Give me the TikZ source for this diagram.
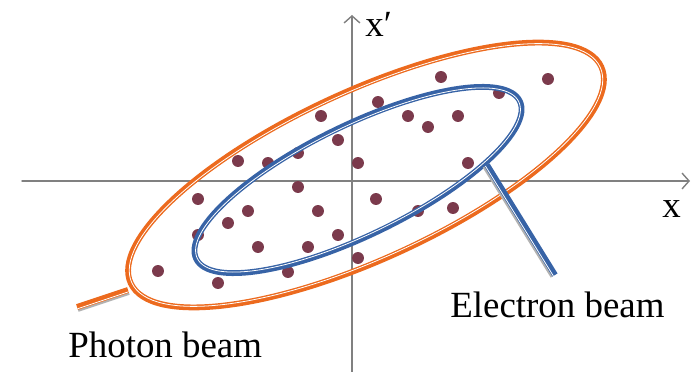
\documentclass[tikz,border=0pt]{standalone}
\usepackage{fontspec}
\setmainfont{Liberation Serif}
\usetikzlibrary{arrows.meta}
\begin{document}
\begin{tikzpicture}[x=0.02cm,y=0.02cm,font=\fontsize{21}{25}\selectfont,line cap=round,
  axis/.style={draw=axisgray,line width=0.8pt,-{Straight Barb[length=4pt,width=9pt]}},
  lbl/.style={inner sep=0pt,anchor=base west},
  ring/.style={line width=3.3pt},
  gap/.style={draw=white,line width=0.45pt},
  stem/.style={line width=3.4pt,line cap=butt},
  shade/.style={draw=gray!60,line width=1.3pt,line cap=butt},
  dot/.style={fill=dotred}]
\definecolor{axisgray}{HTML}{808080}
\definecolor{photonorange}{HTML}{EC6A1E}
\definecolor{electronblue}{HTML}{3763A6}
\definecolor{dotred}{HTML}{7B3A4C}
\useasboundingbox (0,0) rectangle (697,372);
% axes
\coordinate (xstart) at (22,191);
\coordinate (xend) at (690,191);
\coordinate (ystart) at (352,0);
\coordinate (yend) at (352,357);
\draw[axis] (xstart) -- (xend);
\draw[axis] (ystart) -- (yend);
\node[lbl] (xlab) at (662,154) {x};
\node[lbl] (xplab) at (365,335) {x′};
% particles
\fill[dot] (441,295) circle (3.4pt);
\fill[dot] (548,293) circle (3.4pt);
\fill[dot] (378,270) circle (3.4pt);
\fill[dot] (408,256) circle (3.4pt);
\fill[dot] (428,245) circle (3.4pt);
\fill[dot] (458,256) circle (3.4pt);
\fill[dot] (499,279) circle (3.4pt);
\fill[dot] (358,209) circle (3.4pt);
\fill[dot] (468,209) circle (3.4pt);
\fill[dot] (376,173) circle (3.4pt);
\fill[dot] (418,161) circle (3.4pt);
\fill[dot] (453,164) circle (3.4pt);
\fill[dot] (358,114) circle (3.4pt);
\fill[dot] (321,256) circle (3.4pt);
\fill[dot] (338,232) circle (3.4pt);
\fill[dot] (298,219) circle (3.4pt);
\fill[dot] (268,209) circle (3.4pt);
\fill[dot] (238,211) circle (3.4pt);
\fill[dot] (298,185) circle (3.4pt);
\fill[dot] (198,173) circle (3.4pt);
\fill[dot] (248,161) circle (3.4pt);
\fill[dot] (228,149) circle (3.4pt);
\fill[dot] (318,161) circle (3.4pt);
\fill[dot] (338,137) circle (3.4pt);
\fill[dot] (198,137) circle (3.4pt);
\fill[dot] (258,125) circle (3.4pt);
\fill[dot] (308,125) circle (3.4pt);
\fill[dot] (158,101) circle (3.4pt);
\fill[dot] (218,89) circle (3.4pt);
\fill[dot] (288,100) circle (3.4pt);
% photon beam
\coordinate (pbtop) at (128,82);
\coordinate (pbend) at (77,65);
\draw[shade,transform canvas={shift={(1.25,-3.7)}}] (pbtop) -- (pbend);
\draw[stem,draw=photonorange] (pbtop) -- (pbend);
\draw[gap,line cap=butt,transform canvas={shift={(0.6,-1.8)}}] (pbtop) -- (pbend);
\draw[ring,draw=photonorange,rotate around={24.7:(366,197)}] (366,197) ellipse [x radius=259,y radius=84];
\draw[gap,rotate around={24.7:(366,197)}] (366,197) ellipse [x radius=257.8,y radius=82.8];
\node[lbl] (photon) at (68,14) {Photon beam};
% electron beam
\draw[ring,draw=electronblue,rotate around={26:(358,192)}] (358,192) ellipse [x radius=180,y radius=55];
\draw[gap,rotate around={26:(358,192)}] (358,192) ellipse [x radius=178.8,y radius=53.8];
\coordinate (ebtop) at (487,207);
\coordinate (ebend) at (555,97);
\draw[shade,transform canvas={shift={(-3.3,-2.05)}}] (ebtop) -- (ebend);
\draw[stem,draw=electronblue] (ebtop) -- (ebend);
\draw[gap,line cap=butt,transform canvas={shift={(-1.6,-1)}}] (ebtop) -- (ebend);
\node[lbl] (electron) at (450,54) {Electron beam};
\end{tikzpicture}
\end{document}
